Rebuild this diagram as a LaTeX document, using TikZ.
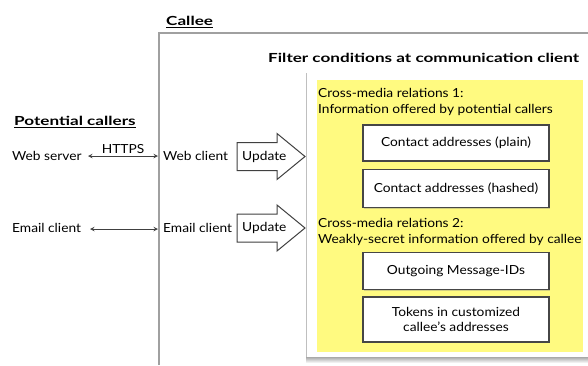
\documentclass[tikz,border=0pt]{standalone}
\usepackage{fontspec}
\setmainfont{Lato}[FakeStretch=1.1]
\newfontfamily\headfont{Lato}[FakeStretch=1.37]
\usetikzlibrary{shadows}
\definecolor{padyellow}{RGB}{255,250,128}
\definecolor{framegray}{RGB}{160,160,160}
\definecolor{boxgray}{RGB}{70,70,70}
\tikzset{
  lbl/.style={inner sep=0pt, anchor=west, font=\fontsize{12.5}{14}\selectfont},
  heading/.style={inner sep=0pt, anchor=west, font=\headfont\fontsize{12.5}{14}\selectfont\bfseries},
  infobox/.style={draw=boxgray, line width=1.1pt, fill=white, minimum width=186pt,
    inner sep=2pt, align=center, font=\fontsize{12.5}{15.5}\selectfont,
    drop shadow={shadow xshift=1pt, shadow yshift=-1pt, opacity=0.35}},
  link/.style={<->, >=stealth, draw=black!75, line width=1pt},
  updarrow/.style={draw=black!75, line width=1pt, fill=white},
}
\begin{document}
\begin{tikzpicture}[x=1pt,y=-1pt]
\useasboundingbox (0,0) rectangle (588,365);

% callee frame
\draw[framegray, line width=1.2pt] (159,365) -- (159,33) -- (590,33);
\node[heading] (callee) at (166,22) {\underline{Callee}};

% filter frame with shadow
\shade[top color=black!45, bottom color=white] (306,355) rectangle (592,363);
\fill[white] (306,73) rectangle (592,357);
\draw[black!25, line width=1pt] (306,73) -- (306,357);
\node[heading] (filter) at (268,58) {Filter conditions at communication client};
\fill[padyellow] (317,80) rectangle (583,352);

\node[lbl] (cm1a) at (318,93) {Cross-media relations 1:};
\node[lbl] (cm1b) at (318,110) {Information offered by potential callers};
\node[infobox, minimum height=36pt] (plain) at (456,143) {Contact addresses (plain)};
\node[infobox, minimum height=38pt] (hashed) at (456,188.5) {Contact addresses (hashed)};
\node[lbl] (cm2a) at (318,223) {Cross-media relations 2:};
\node[lbl] (cm2b) at (318,240) {Weakly-secret information offered by callee};
\node[infobox, minimum height=37pt] (msgid) at (456,271) {Outgoing Message-IDs};
\node[infobox, minimum height=45pt] (tokens) at (456,319.5) {Tokens in customized\\callee's addresses};

% potential callers
\node[heading] (callers) at (14,122) {\underline{Potential callers}};
\node[lbl] (websrv) at (12,156) {Web server};
\node[lbl] (mailsrc) at (12,228) {Email client};
\node[lbl] (webcli) at (163,156) {Web client};
\node[lbl] (mailcli) at (163,228) {Email client};

\coordinate (ws) at (88,156);
\coordinate (wc) at (158,156);
\coordinate (es) at (90,229);
\coordinate (ec) at (158,229);
\draw[link] (ws) -- node[above=2pt, inner sep=0pt, font=\fontsize{12.5}{14}\selectfont] (https) {HTTPS} (wc);
\draw[link] (es) -- (ec);

% update arrows
\foreach \cy/\nm in {156.5/upd1, 228/upd2}{
  \draw[updarrow] (237,\cy-14) -- (277,\cy-14) -- (277,\cy-23) -- (305,\cy)
    -- (277,\cy+23) -- (277,\cy+14) -- (237,\cy+14) -- cycle;
  \node[lbl] (\nm) at (242,\cy) {Update};
}
\end{tikzpicture}
\end{document}
